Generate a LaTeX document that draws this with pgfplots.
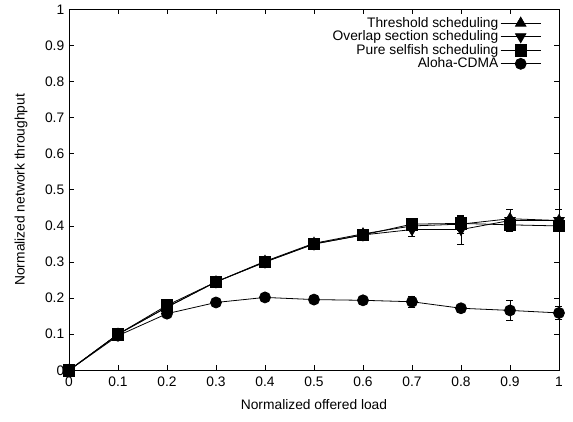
\documentclass[border=0pt]{standalone}
\usepackage{fontspec}
\setmainfont{Liberation Sans}
\usepackage{pgfplots}
\pgfplotsset{compat=1.18}

\pgfplotsset{
  gp/.style={black, line width=0.8pt,
    error bars/y dir=both, error bars/y explicit,
    error bars/error bar style={line width=0.8pt},
    error bars/error mark options={rotate=90, mark size=3.5bp, line width=0.8pt}},
}

\begin{document}
\fontsize{13.8bp}{16bp}\selectfont
\begin{tikzpicture}[x=1bp,y=1bp]
\begin{axis}[
  scale only axis, width=490bp, height=361bp,
  xmin=0, xmax=1, ymin=0, ymax=1,
  xtick={0,0.1,...,1.01}, ytick={0,0.1,...,1.01},
  xticklabels={0,0.1,0.2,0.3,0.4,0.5,0.6,0.7,0.8,0.9,1},
  yticklabels={0,0.1,0.2,0.3,0.4,0.5,0.6,0.7,0.8,0.9,1},
  tick align=inside, major tick length=5bp,
  tick style={black, line width=0.7pt},
  axis line style={line width=0.9pt},
  tick label style={font=\fontsize{13.8bp}{16bp}\selectfont},
  xticklabel style={yshift=-2bp},
  label style={font=\fontsize{13.8bp}{16bp}\selectfont},
  xlabel={Normalized offered load},
  ylabel={Normalized network throughput},
  xlabel style={yshift=-3bp},
  ylabel style={yshift=8bp},
  clip=false,
  legend style={draw=none, fill=none, at={(0.97,0.99)}, anchor=north east,
    font=\fontsize{13.8bp}{13.9bp}\selectfont, row sep=-2.5bp},
  legend cell align=right,
  legend plot pos=right,
  legend image code/.code={\draw[mark repeat=2, mark phase=2] plot coordinates {(5bp,0bp) (25bp,0bp) (45bp,0bp)};},
]
\addplot[gp, mark=triangle*, mark size=6bp] table[y error=e] {
x y e
0 0 0
0.1 0.100 0.003
0.2 0.175 0.005
0.3 0.245 0.005
0.4 0.302 0.006
0.5 0.352 0.008
0.6 0.378 0.008
0.7 0.400 0.012
0.8 0.405 0.025
0.9 0.420 0.025
1.0 0.415 0.030
};
\addlegendentry{Threshold scheduling}
\addplot[gp, mark=triangle*, mark size=6bp, mark options={rotate=180}] table[y error=e] {
x y e
0 0 0
0.1 0.100 0.003
0.2 0.175 0.005
0.3 0.245 0.005
0.4 0.300 0.006
0.5 0.350 0.008
0.6 0.375 0.008
0.7 0.390 0.020
0.8 0.390 0.040
0.9 0.415 0.030
1.0 0.415 0.030
};
\addlegendentry{Overlap section scheduling}
\addplot[gp, mark=square*, mark size=5.8bp] table[y error=e] {
x y e
0 0 0
0.1 0.100 0.003
0.2 0.180 0.005
0.3 0.245 0.005
0.4 0.300 0.006
0.5 0.350 0.008
0.6 0.375 0.008
0.7 0.405 0.010
0.8 0.407 0.020
0.9 0.403 0.015
1.0 0.400 0.010
};
\addlegendentry{Pure selfish scheduling}
\addplot[gp, mark=*, mark size=5.5bp] table[y error=e] {
x y e
0 0 0
0.1 0.096 0.003
0.2 0.157 0.004
0.3 0.188 0.005
0.4 0.202 0.005
0.5 0.196 0.006
0.6 0.194 0.010
0.7 0.190 0.015
0.8 0.172 0.012
0.9 0.166 0.027
1.0 0.159 0.018
};
\addlegendentry{Aloha-CDMA}
\coordinate (bl) at (axis description cs:-0.1408,-0.1413);
\coordinate (tr) at (axis description cs:1.0286,1.0166);
\end{axis}
\path (bl) rectangle (tr);
\end{tikzpicture}
\end{document}
